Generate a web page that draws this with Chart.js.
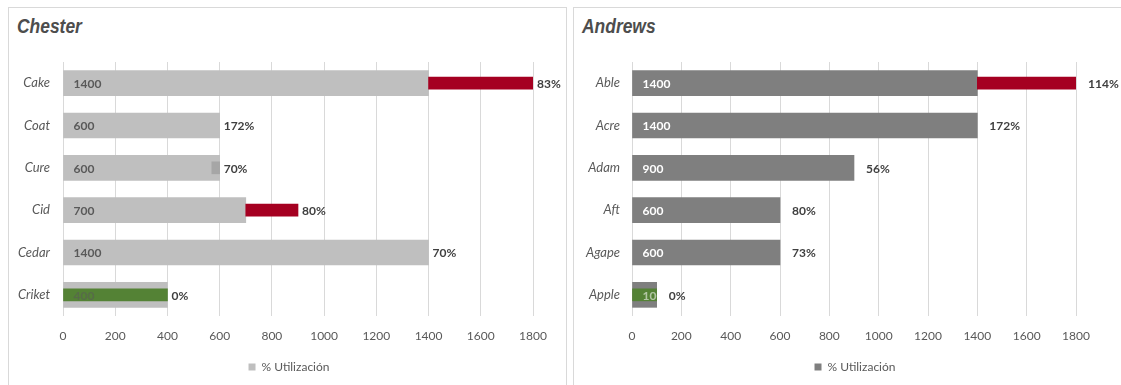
<!DOCTYPE html>
<html>
<head>
<meta charset="utf-8">
<script src="https://cdn.jsdelivr.net/npm/chart.js@4.4.0/dist/chart.umd.min.js"></script>
<style>
  body { margin: 0; width: 1121px; height: 385px; overflow: hidden; background: #fff; font-family: Lato, sans-serif; }
  .panel { position: absolute; top: 7px; height: 382px; border: 1px solid #d9d9d9; box-sizing: border-box; background: #fff; }
  #panelChester { left: 8px; width: 559px; }
  #panelAndrews { left: 573px; width: 600px; }
  .panel h2 { position: absolute; left: 8px; top: 6px; margin: 0; line-height: 1; white-space: nowrap;
    font: italic bold 21px "Liberation Sans", sans-serif; color: #4d4d4d;
    transform: scaleX(0.83); transform-origin: left top; }
  .panel canvas { position: absolute; left: 0; top: 0; }
</style>
</head>
<body>
<div class="panel" id="panelChester">
  <h2>Chester</h2>
  <canvas id="chesterChart" width="556" height="376"></canvas>
</div>
<div class="panel" id="panelAndrews">
  <h2>Andrews</h2>
  <canvas id="andrewsChart" width="560" height="376"></canvas>
</div>
<script>
// --- DATA ---
const chesterCategories = ['Cake', 'Coat', 'Cure', 'Cid', 'Cedar', 'Criket'];
const chesterCapacity = [1400, 600, 600, 700, 1400, 400];
const chesterUsage = [[1400, 1800], null, [570, 600], [700, 900], null, [0, 400]];
const chesterUsageColors = ['#a50021', null, '#a6a6a6', '#a50021', null, '#548235'];
const chesterPct = ['83%', '172%', '70%', '80%', '70%', '0%'];

const andrewsCategories = ['Able', 'Acre', 'Adam', 'Aft', 'Agape', 'Apple'];
const andrewsCapacity = [1400, 1400, 900, 600, 600, 100];
const andrewsUsage = [[1400, 1800], null, null, null, null, [0, 100]];
const andrewsUsageColors = ['#a50021', null, null, null, null, '#548235'];
const andrewsPct = ['114%', '172%', '56%', '80%', '73%', '0%'];

const xTicks = [0, 200, 400, 600, 800, 1000, 1200, 1400, 1600, 1800];
const LEGEND_LABEL = '% Utilización';

// --- LABELS: value inside the wide bar, percentage after the bar end ---
const barLabels = {
  id: 'barLabels',
  beforeDraw(chart, args, opts) {
    // center the legend on a given x instead of the legend box
    const lg = chart.legend;
    const dx = opts.legendCenter - (lg.left + lg.right) / 2;
    lg.left += dx;
    lg.right += dx;
  },
  afterDatasetsDraw(chart, args, opts) {
    const { ctx } = chart;
    const baseMeta = chart.getDatasetMeta(0);
    const overMeta = chart.getDatasetMeta(1);
    const usage = chart.data.datasets[1].data;

    baseMeta.data.forEach((bar, i) => {
      const value = chart.data.datasets[0].data[i];
      const h = bar.height;
      ctx.save();
      // value text, clipped to its own bar
      ctx.beginPath();
      ctx.rect(bar.base, bar.y - h / 2, bar.x - bar.base, h);
      ctx.clip();
      ctx.font = 'bold 12px Lato';
      ctx.textBaseline = 'middle';
      ctx.textAlign = 'left';
      ctx.fillStyle = opts.valueColor;
      if (usage[i] && usage[i][0] === 0) ctx.globalAlpha = 0.55;
      ctx.fillText(String(value), bar.base + 10, bar.y + 1);
      ctx.restore();

      let end = bar.x;
      if (usage[i]) end = Math.max(end, overMeta.data[i].x);
      ctx.save();
      ctx.font = 'bold 12px Lato';
      ctx.textBaseline = 'middle';
      ctx.fillStyle = '#404040';
      ctx.fillText(opts.pct[i], end + opts.offset, bar.y + 1);
      ctx.restore();
    });
  }
};

function makeChart(id, categories, capacity, usage, usageColors, pct, o) {
  const ctx = document.getElementById(id).getContext('2d');
  return new Chart(ctx, {
    type: 'bar',
    data: {
      labels: categories,
      datasets: [
        {
          label: LEGEND_LABEL,
          data: capacity,
          backgroundColor: o.baseColor,
          barThickness: 25,
          grouped: false,
          order: 2
        },
        {
          label: 'Uso',
          data: usage,
          backgroundColor: usageColors.map(c => c || 'rgba(0,0,0,0)'),
          barThickness: 12,
          grouped: false,
          order: 1
        }
      ]
    },
    options: {
      indexAxis: 'y',
      responsive: false,
      animation: false,
      layout: { padding: { left: 0, right: o.padRight, top: 54, bottom: 1 } },
      scales: {
        x: {
          min: 0,
          max: 1800,
          afterBuildTicks: s => { s.ticks = xTicks.map(v => ({ value: v })); },
          afterFit: s => { s.height = 37; },
          ticks: { color: '#595959', font: { family: 'Lato', size: 12 }, padding: 13, maxRotation: 0,
                   callback: v => String(v) },
          grid: { color: '#d9d9d9', drawTicks: false },
          border: { display: false }
        },
        y: {
          afterFit: s => { s.width = o.axisWidth; },
          ticks: { color: '#595959', font: { family: 'Lato', size: 13, style: 'italic' }, padding: o.labelPad },
          grid: { display: false, drawTicks: false },
          border: { display: false }
        }
      },
      plugins: {
        legend: {
          position: 'bottom',
          labels: {
            filter: item => item.datasetIndex === 0,
            boxWidth: 7,
            boxHeight: 7,
            padding: 8,
            color: '#595959',
            font: { family: 'Lato', size: 12 }
          }
        },
        tooltip: { enabled: false },
        barLabels: { valueColor: o.valueColor, pct, offset: o.pctOffset, legendCenter: o.legendCenter }
      }
    },
    plugins: [barLabels]
  });
}

makeChart('chesterChart', chesterCategories, chesterCapacity, chesterUsage, chesterUsageColors, chesterPct, {
  baseColor: '#bfbfbf', valueColor: '#595959', padRight: 32, axisWidth: 54, labelPad: 13, pctOffset: 4,
  legendCenter: 280
});
makeChart('andrewsChart', andrewsCategories, andrewsCapacity, andrewsUsage, andrewsUsageColors, andrewsPct, {
  baseColor: '#7f7f7f', valueColor: '#ffffff', padRight: 58, axisWidth: 58, labelPad: 12, pctOffset: 12,
  legendCenter: 281
});
</script>
</body>
</html>
